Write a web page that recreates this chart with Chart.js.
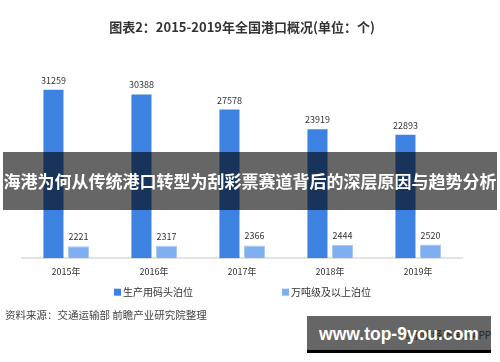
<!DOCTYPE html>
<html>
<head>
<meta charset="utf-8">
<script src="https://cdn.jsdelivr.net/npm/chart.js@4.4.1/dist/chart.umd.min.js"></script>
<style>
  html, body { margin: 0; padding: 0; background: #fff; }
  body { width: 500px; height: 362px; position: relative; overflow: hidden; font-family: "Noto Sans CJK SC", sans-serif; }
  #wrap { position: absolute; left: 0; top: 0; width: 500px; height: 310px; }
  .banner { position: absolute; left: 3px; top: 152px; width: 494px; height: 58px; background: rgba(0,0,0,0.6);
    color: #fff; font-weight: bold; font-size: 17px; line-height: 58px; text-align: center; white-space: nowrap; }
  .source { position: absolute; left: 5px; top: 307px; font-size: 10.5px; color: #444; white-space: nowrap; }
  .app { position: absolute; left: 404px; top: 327px; font-size: 10px; color: #555; white-space: nowrap; }
  .wm { position: absolute; left: 307px; top: 316px; width: 184px; height: 34px; background: rgba(0,0,0,0.6);
    border-bottom: 3px solid #000; color: #fff; font: bold 17.5px "Liberation Sans", Arial, sans-serif;
    line-height: 36px; text-align: center; }
</style>
</head>
<body>
<div id="wrap"><canvas id="chart"></canvas></div>
<div class="banner">海港为何从传统港口转型为刮彩票赛道背后的深层原因与趋势分析</div>
<div class="source">资料来源：交通运输部 前瞻产业研究院整理</div>
<div class="app">©前瞻经济学人APP</div>
<div class="wm">www.top-9you.com</div>
<script>
const years = ['2015年', '2016年', '2017年', '2018年', '2019年'];
const productionBerths = [31259, 30388, 27578, 23919, 22893];
const largeBerths = [2221, 2317, 2366, 2444, 2520];

const FONT = '"Noto Sans CJK SC", sans-serif';

// value labels above each bar
const valueLabels = {
  id: 'valueLabels',
  afterDatasetsDraw(chart) {
    const ctx = chart.ctx;
    ctx.save();
    ctx.font = '9px ' + FONT;
    ctx.fillStyle = '#333';
    ctx.textAlign = 'center';
    ctx.textBaseline = 'bottom';
    chart.data.datasets.forEach((ds, i) => {
      chart.getDatasetMeta(i).data.forEach((bar, j) => {
        ctx.fillText(ds.data[j], bar.x, bar.y - 5);
      });
    });
    ctx.restore();
  }
};

// wide-spaced legend under the axis
const spacedLegend = {
  id: 'spacedLegend',
  afterDraw(chart) {
    const ctx = chart.ctx;
    const y = chart.chartArea.bottom + 34;
    const starts = [chart.chartArea.left + 92, chart.chartArea.left + 260];
    ctx.save();
    ctx.font = '10px ' + FONT;
    ctx.textBaseline = 'middle';
    chart.data.datasets.forEach((ds, i) => {
      ctx.fillStyle = ds.backgroundColor;
      ctx.fillRect(starts[i], y - 3.5, 7, 7);
      ctx.fillStyle = '#333';
      ctx.fillText(ds.label, starts[i] + 9, y);
    });
    ctx.restore();
  }
};

new Chart(document.getElementById('chart'), {
  type: 'bar',
  data: {
    labels: years,
    datasets: [{
      label: '生产用码头泊位',
      data: productionBerths,
      backgroundColor: '#3d82e0',
      categoryPercentage: 0.57,
      barPercentage: 0.8
    }, {
      label: '万吨级及以上泊位',
      data: largeBerths,
      backgroundColor: '#7eaff0',
      borderColor: '#a9c9f5',
      borderWidth: 1,
      categoryPercentage: 0.57,
      barPercentage: 0.84
    }]
  },
  options: {
    responsive: true,
    maintainAspectRatio: false,
    animation: false,
    layout: { padding: { left: 22, right: 38, top: 0, bottom: 25 } },
    plugins: {
      title: {
        display: true,
        text: '图表2：2015-2019年全国港口概况(单位：个)',
        color: '#333',
        font: { size: 13, weight: 'bold', family: FONT },
        padding: { top: 19, bottom: 35 }
      },
      legend: { display: false },
      tooltip: { enabled: false }
    },
    scales: {
      x: {
        grid: { display: false, drawTicks: false },
        border: { color: '#e3e3e3', width: 2 },
        ticks: { color: '#333', padding: 8, font: { size: 9, family: FONT } }
      },
      y: { display: false, min: 0, max: 35000 }
    }
  },
  plugins: [valueLabels, spacedLegend]
});
</script>
</body>
</html>
